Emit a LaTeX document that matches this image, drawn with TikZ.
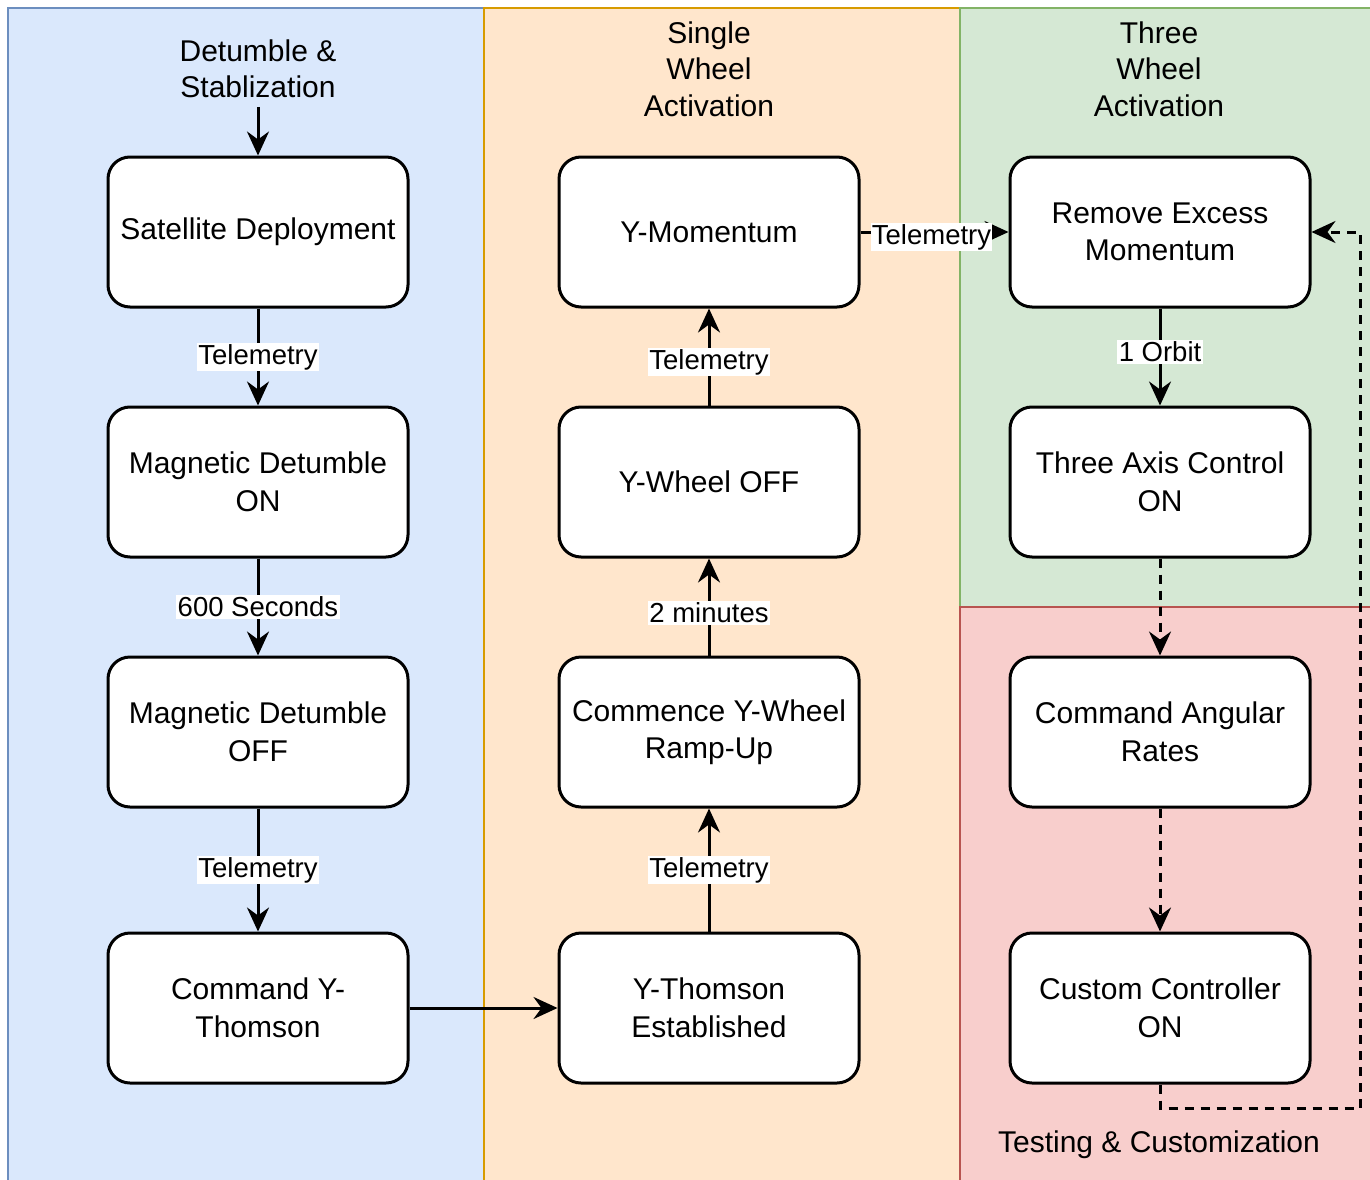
\documentclass[tikz,border=0pt]{standalone}
\usepackage{fontspec}
\setmainfont{Liberation Sans}
\usetikzlibrary{arrows.meta}
\definecolor{bluefill}{HTML}{DAE8FC}
\definecolor{bluestroke}{HTML}{6C8EBF}
\definecolor{orangefill}{HTML}{FFE6CC}
\definecolor{orangestroke}{HTML}{D79B00}
\definecolor{greenfill}{HTML}{D5E8D4}
\definecolor{greenstroke}{HTML}{82B366}
\definecolor{redfill}{HTML}{F8CECC}
\definecolor{redstroke}{HTML}{B85450}
\begin{document}
\begin{tikzpicture}[x=1pt,y=-1pt,
  box/.style={draw=black, fill=white, line width=3pt, rounded corners=22pt,
    minimum width=300pt, minimum height=150pt, align=center, inner sep=0pt,
    font=\fontsize{30}{37.5}\selectfont},
  lanetitle/.style={align=center, inner sep=0pt, font=\fontsize{30}{36.5}\selectfont},
  edge/.style={line width=3pt, -{Stealth[length=24pt,width=22pt,inset=8pt]}},
  dashedge/.style={edge, dash pattern=on 9pt off 7pt},
  lbl/.style={fill=white, inner sep=1.5pt, font=\fontsize{27.5}{32}\selectfont}
]
\useasboundingbox (0,0) rectangle (1370,1180);
\clip (0,0) rectangle (1370,1180);
% lanes
\fill[white] (0,0) rectangle (1370,1180);
\draw[fill=bluefill, draw=bluestroke, line width=2.5pt] (8,8) rectangle (484,1200);
\draw[fill=orangefill, draw=orangestroke, line width=2.5pt] (484,8) rectangle (960,1200);
\draw[fill=greenfill, draw=greenstroke, line width=2.5pt] (960,8) rectangle (1400,607);
\draw[fill=redfill, draw=redstroke, line width=2.5pt] (960,607) rectangle (1400,1200);
% lane titles
\node[lanetitle] (t1) at (258,69) {Detumble \&\\Stablization};
\node[lanetitle] (t2) at (709,69) {Single\\Wheel\\Activation};
\node[lanetitle] (t3) at (1159,69) {Three\\Wheel\\Activation};
\node[lanetitle] (t4) at (1159,1145) {Testing \& Customization};
% boxes column 1
\node[box] (sd) at (258,232) {Satellite Deployment};
\node[box] (mdon) at (258,482) {Magnetic Detumble\\ON};
\node[box] (mdoff) at (258,732) {Magnetic Detumble\\OFF};
\node[box] (cyt) at (258,1008) {Command Y-\\Thomson};
% column 2
\node[box] (ym) at (709,232) {Y-Momentum};
\node[box] (ywo) at (709,482) {Y-Wheel OFF};
\node[box] (cyr) at (709,732) {Commence Y-Wheel\\Ramp-Up};
\node[box] (yte) at (709,1008) {Y-Thomson\\Established};
% column 3
\node[box] (rem) at (1160,232) {Remove Excess\\Momentum};
\node[box] (tac) at (1160,482) {Three Axis Control\\ON};
\node[box] (car) at (1160,732) {Command Angular\\Rates};
\node[box] (ccon) at (1160,1008) {Custom Controller\\ON};
% edges
\coordinate (t1b) at (258,107);
\draw[edge] (t1b) -- (sd.north);
\draw[edge] (sd) -- node[lbl] {Telemetry} (mdon);
\draw[edge] (mdon) -- node[lbl] {600 Seconds} (mdoff);
\draw[edge] (mdoff) -- node[lbl] {Telemetry} (cyt);
\draw[edge] (cyt) -- (yte);
\draw[edge] (yte) -- node[lbl] {Telemetry} (cyr);
\draw[edge] (cyr) -- node[lbl, yshift=-6pt] {2 minutes} (ywo);
\draw[edge] (ywo) -- node[lbl, yshift=-5pt] {Telemetry} (ym);
\draw[edge] (ym) -- node[lbl, yshift=-5pt, xshift=-3pt, inner xsep=0.5pt] {Telemetry} (rem);
\draw[edge] (rem) -- node[lbl, yshift=5pt] {1 Orbit} (tac);
\draw[dashedge] (tac) -- (car);
\draw[dashedge] (car) -- (ccon);
\coordinate (loop) at (1360,1108);
\draw[dashedge] (ccon.south) |- (loop) |- (rem.east);
\end{tikzpicture}
\end{document}
